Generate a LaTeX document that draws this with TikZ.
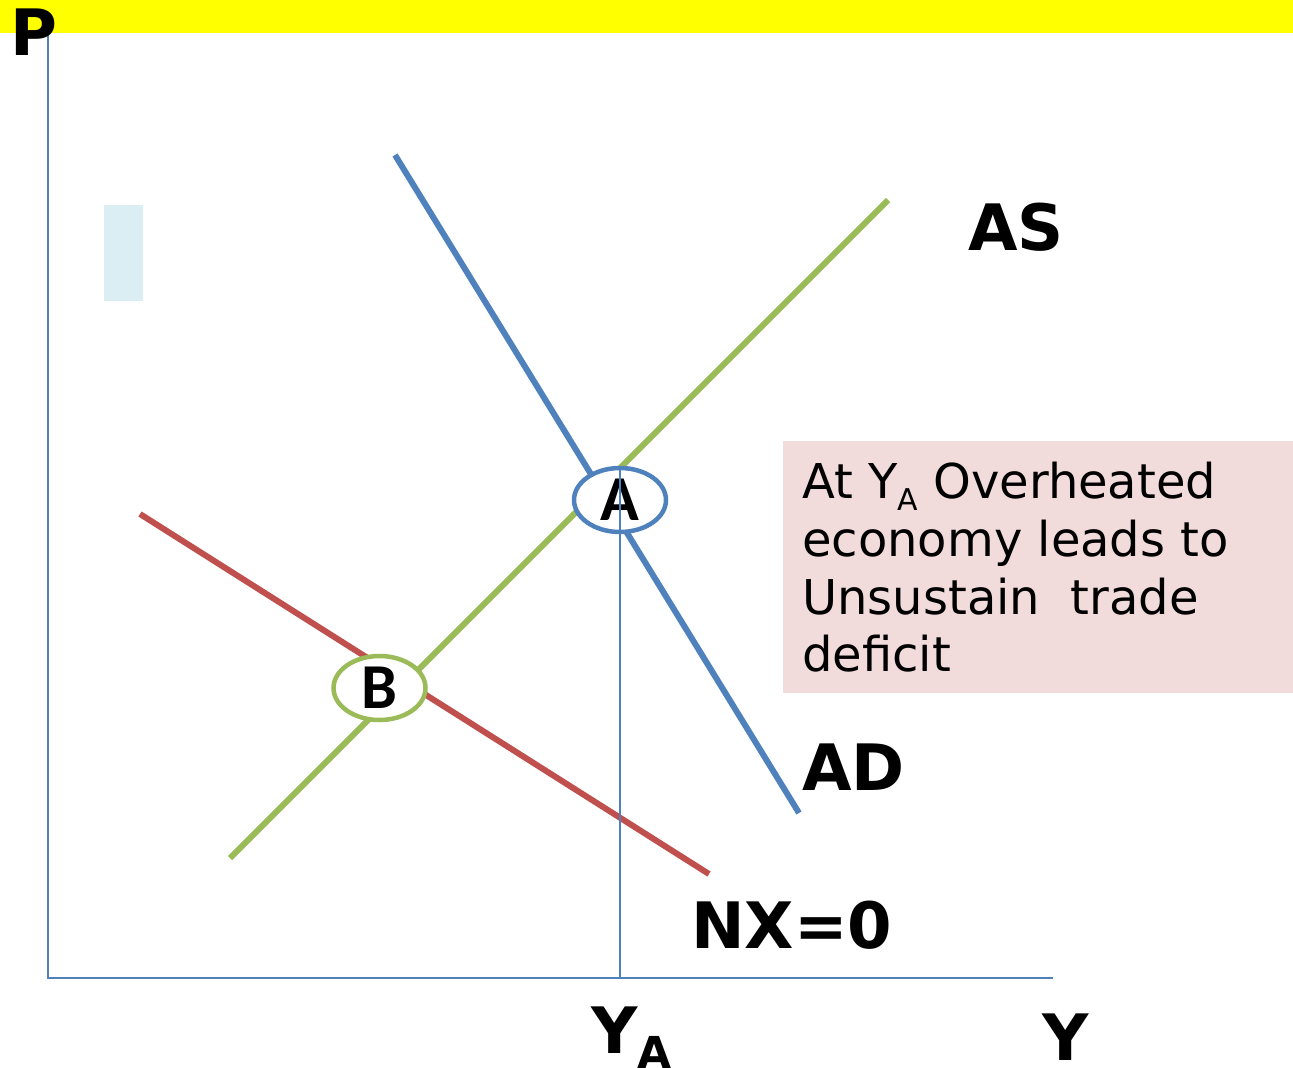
\documentclass[tikz,border=0pt]{standalone}
\usepackage{fontspec}
\setmainfont{DejaVu Sans}
\newfontfamily\carl{Carlito}
\definecolor{bandyellow}{HTML}{FFFF00}
\definecolor{adblue}{HTML}{4F81BD}
\definecolor{asgreen}{HTML}{9BBB59}
\definecolor{nxred}{HTML}{C0504D}
\definecolor{boxpink}{HTML}{F2DCDB}
\definecolor{paleblue}{HTML}{DAEEF3}
\tikzset{
  axisline/.style={draw=adblue, line width=2pt},
  curve/.style={line width=6pt},
  biglabel/.style={font=\fontsize{64}{70}\selectfont\bfseries, inner sep=0pt, anchor=base west},
  boxtext/.style={font=\fontsize{48}{56}\selectfont, inner sep=0pt, anchor=base west},
  ptlabel/.style={ellipse, minimum width=92pt, minimum height=64pt, inner sep=0pt, fill=white, line width=4.5pt, font=\carl\fontsize{64}{66}\selectfont\bfseries},
}
\usetikzlibrary{shapes.geometric}
\begin{document}
\begin{tikzpicture}[x=1pt,y=-1pt]
\useasboundingbox (0,0) rectangle (1293,1068);
\clip (0,0) rectangle (1293,1068);
\fill[bandyellow] (0,0) rectangle (1293,33);
\fill[paleblue] (104,205) rectangle (143,301);
% axes
\coordinate (origin) at (48,978);
\coordinate (ytop) at (48,33);
\coordinate (xend) at (1053,978);
\draw[axisline] (ytop) -- (origin) -- (xend);
% curves
\coordinate (ad1) at (395,155);
\coordinate (ad2) at (799,813);
\coordinate (as1) at (230,858);
\coordinate (as2) at (888,200);
\coordinate (nx1) at (140,514);
\coordinate (nx2) at (709,874);
\draw[curve, draw=nxred] (nx1) -- (nx2);
\draw[curve, draw=asgreen] (as1) -- (as2);
\draw[curve, draw=adblue] (ad1) -- (ad2);
% points
\node[ptlabel, draw=adblue] (A) at (620,500) {A};
\node[ptlabel, draw=asgreen] (B) at (379.5,688) {B};
\coordinate (ya) at (620,978);
\draw[adblue, line width=2pt] (A.north) -- (ya);
% labels
\node[biglabel] (P) at (10,55) {P};
\node[biglabel] (AS) at (968,250) {AS};
\node[biglabel] (AD) at (802,790) {AD};
\node[biglabel] (NX) at (691,948) {NX=0};
\node[biglabel] (YAl) at (591,1053) {Y\raisebox{-15pt}{\fontsize{44}{44}\selectfont\bfseries A}};
\node[biglabel] (Yl) at (1042,1060) {Y};
% text box
\node[fill=boxpink, minimum width=510pt, minimum height=252pt, inner sep=0pt] (box) at (1038,567) {};
\node[boxtext] (t1) at (802,498) {At Y\raisebox{-12pt}{\fontsize{30}{30}\selectfont A} Overheated};
\node[boxtext] (t2) at (802,556) {economy leads to};
\node[boxtext] (t3) at (802,614) {Unsustain\ \ trade};
\node[boxtext] (t4) at (802,671) {deficit};
\end{tikzpicture}
\end{document}
